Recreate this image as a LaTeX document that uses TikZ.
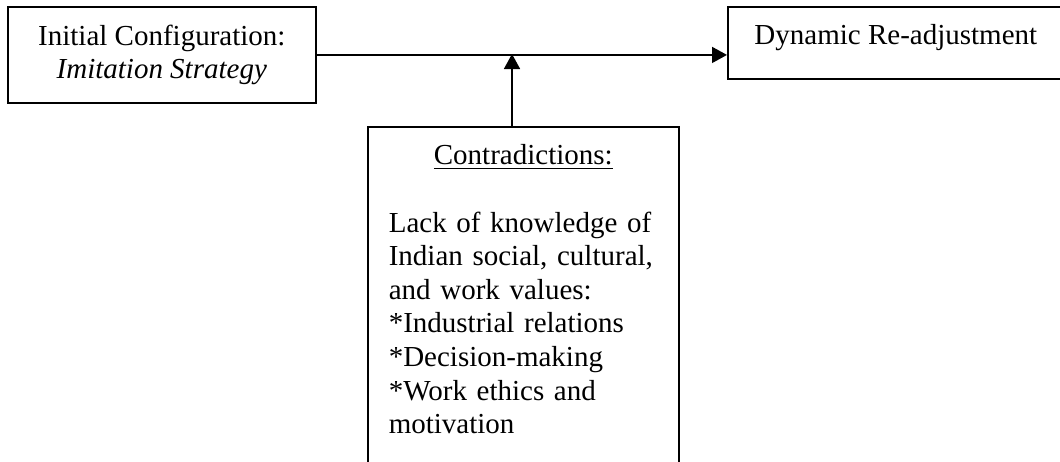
\documentclass[tikz,border=0pt]{standalone}
\usepackage{fontspec}
\setmainfont{Liberation Serif}
\usetikzlibrary{arrows.meta}

\begin{document}
\begin{tikzpicture}[->,>={Triangle[length=7.5pt,width=8pt]},line width=0.8pt,
                    x=0.5pt,y=-0.5pt]
  \tikzstyle{textbox}=[rectangle,draw,line width=0.8pt,inner xsep=10.5pt,inner ysep=9pt,
                       font=\fontsize{14.5}{16.8}\selectfont]
  \useasboundingbox (0,0) rectangle (1060,461);
  \clip (0,0) rectangle (1060,461);

  \node[textbox,anchor=north west,minimum width=154pt,align=center] (init) at (7,6)
       {Initial Configuration:\\\textit{Imitation Strategy}};
  \node[textbox,anchor=north west,minimum width=168pt,text depth=8pt] (dyn) at (727,6)
       {Dynamic Re-adjustment};
  \node[textbox,anchor=north west,text width=134.5pt,align=left,text depth=150pt] (contra) at (367,126)
       {\makebox[\linewidth]{\underline{Contradictions:}}\\[16.8pt]
        Lack of knowledge of\\
        Indian social, cultural,\\
        and work values:\\
        {}*Industrial relations\\
        {}*Decision-making\\
        {}*Work ethics and\\
        motivation};

  \coordinate (meet) at (512,54);

  \draw (init.east) -- (init.east -| dyn.west);
  \draw (meet |- contra.north) -- (meet);
\end{tikzpicture}
\end{document}
